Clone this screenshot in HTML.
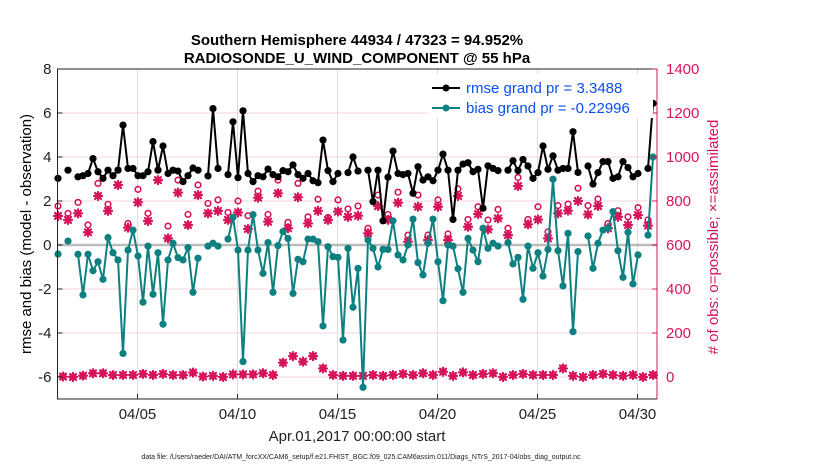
<!DOCTYPE html>
<html><head><meta charset="utf-8"><style>
body{margin:0;background:#fff;width:830px;height:470px;overflow:hidden;font-family:"Liberation Sans",sans-serif}
svg text{font-family:"Liberation Sans",sans-serif}
</style></head><body>
<svg id="chart" width="830" height="470" viewBox="0 0 830 470" xmlns="http://www.w3.org/2000/svg">
<g id="grid"></g>
<g id="marks"></g>
<g id="axes"></g>
<text x="357" y="45" text-anchor="middle" font-size="15" font-weight="bold">Southern Hemisphere 44934 / 47323 = 94.952%</text>
<text x="357" y="63" text-anchor="middle" font-size="15" font-weight="bold">RADIOSONDE_U_WIND_COMPONENT @ 55 hPa</text>
<text transform="translate(31,234) rotate(-90)" text-anchor="middle" font-size="15">rmse and bias (model - observation)</text>
<text transform="translate(718,237) rotate(-90)" text-anchor="middle" font-size="15" fill="#d4145a">#  of obs: o=possible; ×=assimilated</text>
<text x="357" y="441" text-anchor="middle" font-size="15" fill="#222">Apr.01,2017 00:00:00 start</text>
<text x="361" y="459" text-anchor="middle" font-size="7" fill="#222">data file: /Users/raeder/DAI/ATM_forcXX/CAM6_setup/f.e21.FHIST_BGC.f09_025.CAM6assim.011/Diags_NTrS_2017-04/obs_diag_output.nc</text>
<g>
<rect x="428" y="74" width="225" height="44" fill="#fff"/>
<line x1="432" y1="88" x2="460" y2="88" stroke="#000" stroke-width="2"/><circle cx="446" cy="88" r="3.5" fill="#000"/>
<text x="466" y="93" font-size="15" fill="#0b4ff0">rmse grand pr = 3.3488</text>
<line x1="432" y1="108" x2="460" y2="108" stroke="#0e8080" stroke-width="2"/><circle cx="446" cy="108" r="3.5" fill="#0e8080"/>
<text x="466" y="113" font-size="15" fill="#0b4ff0">bias grand pr = -0.22996</text>
</g>
</svg>
<script>
const leftTicks=[8,6,4,2,0,-2,-4,-6];
const rightTicks=[0,200,400,600,800,1000,1200,1400];
const dateTicks=[4,9,14,19,24,29];
const dateLabels=["04/05","04/10","04/15","04/20","04/25","04/30"];
const rmse=[3.03,null,3.4,null,3.1,3.15,3.25,3.93,3.33,3.03,3.4,3.15,3.4,5.45,3.48,3.48,3.15,3.15,3.33,4.7,3.4,4.5,3.25,3.4,3.36,2.88,3.15,3.5,3.4,null,3.14,6.2,3.48,null,3.2,5.6,3.06,6.1,3.25,2.88,3.15,3.1,3.45,3.2,3.1,3.38,3.33,3.64,3.2,3.03,3.25,2.92,2.83,4.77,3.38,2.88,3.25,null,3.29,4.0,3.36,null,3.4,1.97,3.4,1.1,3.08,4.27,3.25,3.2,3.25,2.35,3.56,2.95,3.1,2.92,3.4,4.13,3.4,1.16,3.4,3.68,3.74,3.33,3.44,1.67,3.6,3.48,3.38,null,3.4,3.83,3.38,3.89,3.59,3.03,3.29,4.5,3.44,4.05,3.4,3.48,3.48,5.15,3.3,null,3.59,2.77,3.29,3.79,3.79,3.03,3.1,3.79,3.52,3.1,3.25,null,3.48,6.44];
const bias=[-0.41,null,0.18,null,-0.42,-2.27,-0.42,-1.17,-0.76,-1.56,0.34,-0.35,-0.68,-4.93,-0.23,0.68,-0.5,-2.6,-0.05,-2.24,-0.35,-3.6,-0.68,0.08,-0.57,-0.68,-0.12,-2.15,-0.6,null,-0.05,0.08,-0.05,null,0.27,1.26,-0.23,-5.3,-0.23,1.38,-0.23,-1.29,0.11,-2.15,-0.03,0.61,0.3,-2.2,-0.65,-0.76,0.27,0.27,0.15,-3.68,-0.08,-0.53,-0.56,-4.32,-0.15,-2.83,-1.06,-6.47,0.23,-0.15,-1.0,-0.2,-0.2,1.1,-0.45,-0.68,0.0,1.18,-0.8,-1.36,0.08,1.18,-0.76,-2.53,0.0,-0.05,-1.08,-2.15,0.3,-0.23,-0.76,0.76,-0.15,0.08,-0.05,null,0.11,-0.86,-0.56,-2.47,-0.05,-1.06,-0.35,-1.41,-0.2,2.99,-0.26,-1.86,0.53,-3.94,-0.3,null,0.41,-1.06,0.08,0.68,0.76,1.52,-0.26,-1.47,0.58,-1.77,-0.45,null,0.45,4.0];
const possibleEven=[777,744,794,691,880,785,941,698,853,744,941,686,895,739,873,789,805,748,800,733,845,739,895,703,880,728,808,725,805,764,777,676,827,739,840,645,827,645,805,650,855,716,774,714,762,676,907,716,774,660,779,786,858,779,809,698,756,728,770,714];
const assimEven=[732,714,744,658,823,755,873,679,794,709,895,630,838,691,827,744,755,714,748,673,815,706,835,676,817,698,755,714,752,728,733,653,777,714,792,615,774,622,774,622,823,683,741,671,721,645,868,694,716,630,744,756,800,739,777,676,728,691,736,688];
const countOdd=[2,0,6,17,17,9,9,9,14,9,14,9,9,20,2,5,0,12,12,12,17,9,65,95,70,95,39,9,5,5,5,9,5,9,14,9,17,9,24,5,21,9,14,17,0,9,14,9,9,9,39,5,0,9,14,9,5,9,0,9];

const NS="http://www.w3.org/2000/svg";
const L=57.5,R=657,T=69,B=399;
const xS=t=>57.5+20*t;
const yL=v=>245-22*v;
const yR=n=>377-0.22*n;
const slotT=i=>0.025+0.25*i;
const MAG="#d6145a",TEAL="#0e8080";
function mk(tag,attrs,parent){const e=document.createElementNS(NS,tag);for(const k in attrs)e.setAttribute(k,attrs[k]);parent.appendChild(e);return e;}
const grid=document.getElementById('grid'),marks=document.getElementById('marks'),axes=document.getElementById('axes');

leftTicks.forEach(v=>{const l=mk('line',{x1:L,x2:R,y1:yL(v),y2:yL(v),stroke:'#f0d6e0','stroke-width':1},grid);

});
dateTicks.forEach(t=>{const l=mk('line',{x1:xS(t),x2:xS(t),y1:T,y2:B,stroke:'#dcdcdc','stroke-width':1},grid);

});
const z=mk('line',{x1:L,x2:R,y1:yL(0),y2:yL(0),stroke:'#bbb','stroke-width':2.5},grid);



function series(vals,color,name){
  let segs=[],cur=[];
  vals.forEach((v,i)=>{if(v===null){if(cur.length)segs.push(cur);cur=[];}else cur.push(xS(slotT(i))+','+yL(v));});
  if(cur.length)segs.push(cur);
  segs.forEach(s=>{const p=mk('polyline',{points:s.join(' '),fill:'none',stroke:color,'stroke-width':2,'stroke-linejoin':'round'},marks);
  
  });
  vals.forEach((v,i)=>{if(v===null)return;const c=mk('circle',{cx:xS(slotT(i)),cy:yL(v),r:3.6,fill:color},marks);
  
  });
}
function star(x,y,name){
  const g=mk('g',{stroke:MAG,'stroke-width':2.2,'stroke-linecap':'round'},marks);
  
  
  mk('line',{x1:x-4,x2:x+4,y1:y,y2:y},g);mk('line',{x1:x,x2:x,y1:y-4,y2:y+4},g);
  mk('line',{x1:x-3,x2:x+3,y1:y-3,y2:y+3},g);mk('line',{x1:x-3,x2:x+3,y1:y+3,y2:y-3},g);
}
possibleEven.forEach((n,k)=>{const c=mk('circle',{cx:xS(slotT(2*k)),cy:yR(n),r:2.8,fill:'none',stroke:MAG,'stroke-width':1.6},marks);

});
assimEven.forEach((n,k)=>star(xS(slotT(2*k)),yR(n),'assimilated-obs-marker'));
countOdd.forEach((n,k)=>{const x=xS(slotT(2*k+1)),y=yR(n);
const c=mk('circle',{cx:x,cy:y,r:3.5,fill:MAG},marks);


star(x,y,'assimilated-obs-marker');});
series(rmse,'#000','rmse');
series(bias,TEAL,'bias');

const fr=mk('path',{d:`M${R},${T} L${L},${T} L${L},${B} L${R},${B}`,fill:'none',stroke:'#222','stroke-width':1},axes);


const rs=mk('line',{x1:R,x2:R,y1:T,y2:B,stroke:MAG,'stroke-width':1},axes);


leftTicks.forEach(v=>{mk('line',{x1:L,x2:L+5,y1:yL(v),y2:yL(v),stroke:'#222'},axes);
const t=mk('text',{x:L-6,y:yL(v)+5,'text-anchor':'end','font-size':15,fill:'#222'},axes);t.textContent=v;

});
rightTicks.forEach(n=>{mk('line',{x1:R,x2:R-5,y1:yR(n),y2:yR(n),stroke:MAG},axes);
const t=mk('text',{x:R+9,y:yR(n)+5,'text-anchor':'start','font-size':15,fill:MAG},axes);t.textContent=n;

});
dateTicks.forEach((d,i)=>{mk('line',{x1:xS(d),x2:xS(d),y1:B,y2:B-5,stroke:'#222'},axes);
const t=mk('text',{x:xS(d),y:B+20,'text-anchor':'middle','font-size':15,fill:'#222'},axes);t.textContent=dateLabels[i];

});
</script>
</body></html>
